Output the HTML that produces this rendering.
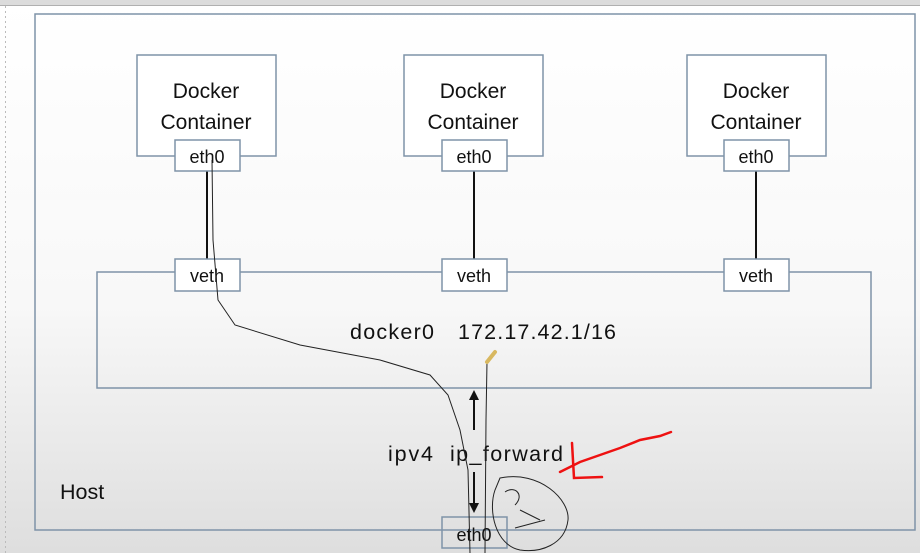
<!DOCTYPE html>
<html><head><style>
html,body{margin:0;padding:0;width:920px;height:553px;overflow:hidden;background:#fff}
svg{display:block}
text{font-family:"Liberation Sans",sans-serif;fill:#111}
</style></head><body>
<svg width="920" height="553" viewBox="0 0 920 553">
<defs>
<linearGradient id="g" x1="0" y1="0" x2="0" y2="1">
<stop offset="0" stop-color="#ffffff"/>
<stop offset="0.55" stop-color="#f8f8f8"/>
<stop offset="1" stop-color="#dedede"/>
</linearGradient>
</defs>
<rect x="0" y="0" width="920" height="553" fill="url(#g)"/>
<rect x="0" y="0" width="920" height="5" fill="#dcdcdc"/>
<line x1="0" y1="5.5" x2="920" y2="5.5" stroke="#b0b0b0"/>
<line x1="5.5" y1="6" x2="5.5" y2="553" stroke="#bbb" stroke-dasharray="2,3"/>
<g fill="none" stroke="#7f93a8" stroke-width="1.5">
<rect x="35" y="14" width="880" height="516"/>
<rect x="137" y="55" width="139" height="101" fill="#fff"/>
<rect x="404" y="55" width="139" height="101" fill="#fff"/>
<rect x="687" y="55" width="139" height="101" fill="#fff"/>
<rect x="97" y="272" width="774" height="116"/>
</g>
<g stroke="#111" stroke-width="2">
<line x1="207" y1="171" x2="207" y2="259"/>
<line x1="474" y1="171" x2="474" y2="259"/>
<line x1="756" y1="171" x2="756" y2="259"/>
<line x1="474" y1="395" x2="474" y2="430"/>
<line x1="474" y1="472" x2="474" y2="508"/>
</g>
<path d="M469,400 L474,390 L479,400Z M469,503 L474,513 L479,503Z" fill="#111"/>
<g fill="#fff" stroke="#7f93a8" stroke-width="1.5">
<rect x="175" y="140" width="65" height="31"/>
<rect x="442" y="140" width="65" height="31"/>
<rect x="724" y="140" width="65" height="31"/>
<rect x="175" y="259" width="65" height="32"/>
<rect x="442" y="259" width="65" height="32"/>
<rect x="724" y="259" width="65" height="32"/>
<rect x="442" y="517" width="65" height="31" fill="none"/>
</g>
<g font-size="21" text-anchor="middle">
<text x="206" y="98">Docker</text><text x="206" y="129">Container</text>
<text x="473" y="98">Docker</text><text x="473" y="129">Container</text>
<text x="756" y="98">Docker</text><text x="756" y="129">Container</text>
</g>
<g font-size="18" text-anchor="middle">
<text x="207" y="163">eth0</text><text x="474" y="163">eth0</text><text x="756" y="163">eth0</text>
<text x="207" y="282">veth</text><text x="474" y="282">veth</text><text x="756" y="282">veth</text>
<text x="474" y="541">eth0</text>
</g>
<g font-size="21.5">
<text x="350" y="339" textLength="84">docker0</text>
<text x="458" y="339" textLength="158">172.17.42.1/16</text>
<text x="388" y="461" textLength="45">ipv4</text>
<text x="450" y="461" textLength="113">ip_forward</text>
<text x="60" y="499">Host</text>
</g>
<g fill="none" stroke="#222" stroke-width="1">
<path d="M212,160 L213,240 L218,300 L235,325 L300,345 L380,360 L430,375 L448,395 L460,430 L468,470 L470,553"/>
<path d="M487,362 L486,420 L485,553"/>
<path d="M500,478 C540,470 570,500 568,520 C565,545 540,553 520,550 C495,545 488,510 495,490 Z"/>
<path d="M505,492 C515,485 525,495 515,505 M520,510 L540,520 M515,528 L545,520"/>
</g>
<path d="M487,362 L495,352" stroke="#d8b860" stroke-width="4" stroke-linecap="round"/>
<g fill="none" stroke="#ee1111" stroke-width="2.5" stroke-linecap="round">
<path d="M560,472 L580,462 L600,455 L620,448 L640,440 L660,436 L671,432"/>
<path d="M572,443 L574,478 L602,477"/>
</g>
</svg>
</body></html>
